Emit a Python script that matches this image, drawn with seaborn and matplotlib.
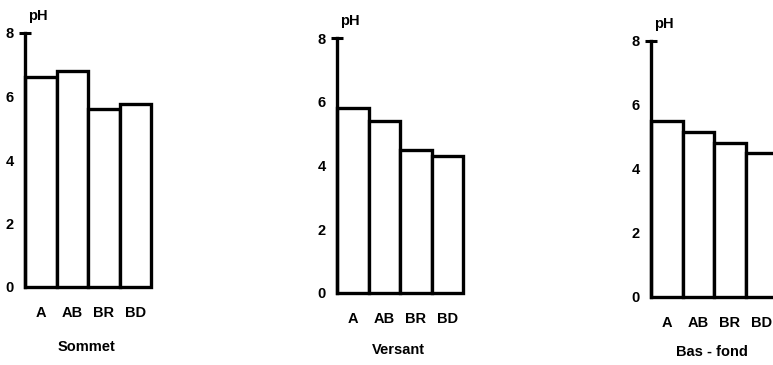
import matplotlib
matplotlib.use("Agg")
import matplotlib.pyplot as plt
import seaborn as sns
import pandas as pd

# pH by soil horizon at three positions on the slope
horizons = ["A", "AB", "BR", "BD"]
ph_sommet = [6.6, 6.8, 5.6, 5.75]
ph_versant = [5.8, 5.4, 4.5, 4.3]
ph_bas_fond = [5.5, 5.15, 4.8, 4.5]
positions = ["Sommet", "Versant", "Bas - fond"]
y_ticks = [0, 2, 4, 6, 8]

sns.set_theme(style="white")
plt.rcParams["font.family"] = ["Liberation Sans", "DejaVu Sans"]
plt.rcParams["text.color"] = "black"
plt.rcParams["xtick.color"] = "black"
plt.rcParams["ytick.color"] = "black"

W, H = 773, 365
fig = plt.figure(figsize=(W / 100, H / 100), dpi=100)

# panel geometry in pixels: (axis x, right edge, y of 0, y of 8)
panels = [
    (25, 151, 287, 33),
    (337, 463, 293, 38),
    (651, 777, 297, 41),
]
series = [ph_sommet, ph_versant, ph_bas_fond]
label_y = [347, 350, 352]

lw = 2.4
fs = 10.5
for (x0, x1, yb, yt), vals, name, ly in zip(panels, series, positions, label_y):
    ax = fig.add_axes([x0 / W, 1 - yb / H, (x1 - x0) / W, (yb - yt) / H])
    df = pd.DataFrame({"horizon": horizons, "pH": vals})
    sns.barplot(data=df, x="horizon", y="pH", ax=ax, width=1.0,
                color="white", edgecolor="black", linewidth=lw,
                saturation=1)
    for p in ax.patches:
        p.set_clip_on(False)
    ax.set_xlim(-0.5, 3.5)
    ax.set_ylim(0, 8)
    ax.set_yticks(y_ticks)
    ax.set_yticklabels([str(t) for t in y_ticks], fontsize=fs,
                       fontweight="heavy")
    ax.set_xticks(range(len(horizons)))
    ax.set_xticklabels(horizons, fontsize=fs, fontweight="heavy")
    ax.tick_params(axis="y", direction="in", length=4, width=1.5,
                   pad=8)
    ax.tick_params(axis="x", length=0, pad=14)
    for s in ["top", "right", "bottom"]:
        ax.spines[s].set_visible(False)
    ax.spines["left"].set_linewidth(lw)
    ax.spines["left"].set_color("black")
    ax.set_xlabel("")
    ax.set_ylabel("")
    ax.patch.set_alpha(0)
    # cap at the top of the axis
    ax.plot([-0.5], [8], marker="_", markersize=8,
            markeredgewidth=2.2, color="black", clip_on=False)
    ax.text(-0.4, 8.3, "pH", fontsize=fs, fontweight="heavy",
            ha="left", va="bottom")
    fig.text(((x0 + x1) / 2 - 2) / W, 1 - ly / H, name, fontsize=fs,
             fontweight="heavy", ha="center", va="center")

fig.savefig("out.png", dpi=100, facecolor="white")
